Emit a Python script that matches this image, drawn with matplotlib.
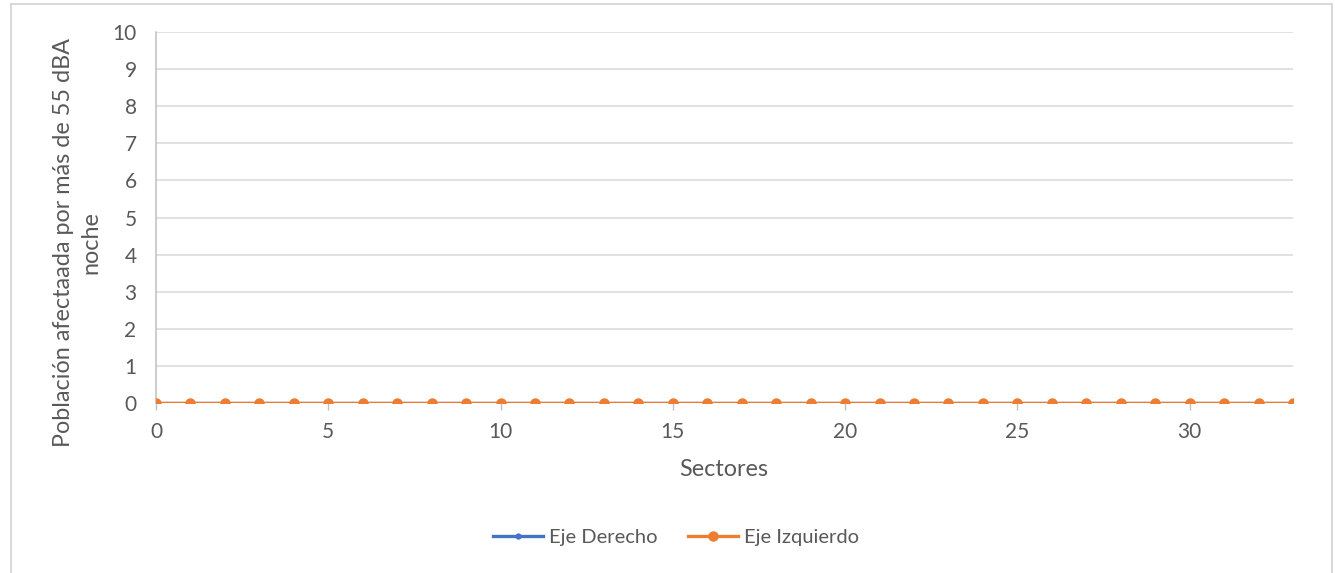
import matplotlib
matplotlib.use("Agg")
import matplotlib.pyplot as plt
from matplotlib.patches import Rectangle

# Sector indices and the population affected (night, > 55 dBA) per axis series
sectores = list(range(0, 34))
eje_derecho = [0] * 34
eje_izquierdo = [0] * 34

y_ticks = list(range(0, 11))
x_ticks = [0, 5, 10, 15, 20, 25, 30]

plt.rcParams['font.family'] = ['Lato', 'DejaVu Sans']
TXT = '#595959'
GRID = '#D9D9D9'
FS_TICK = 15
FS_TITLE = 16.8
FS_LEG = 14.5

W, H = 1335, 573
fig = plt.figure(figsize=(W / 100, H / 100), dpi=100)
fig.patch.set_facecolor('white')

# outer chart frame
fig.patches.append(Rectangle((11 / W, -0.01), (1332 - 11) / W, 1 - 4 / H + 0.01,
                             transform=fig.transFigure, fill=False,
                             edgecolor='#D9D9D9', linewidth=1.5))

left, right = 156 / W, 1293 / W
top, bottom = 1 - 32 / H, 1 - 403 / H
ax = fig.add_axes([left, bottom, right - left, top - bottom])

ax.plot(sectores, eje_derecho, color='#4472C4', linewidth=2.4, marker='o',
        markersize=3.5, label='Eje Derecho', zorder=3)
ax.plot(sectores, eje_izquierdo, color='#ED7D31', linewidth=2.4, marker='o',
        markersize=6.5, label='Eje Izquierdo', zorder=4)

ax.set_xlim(0, 33)
ax.set_ylim(0, 10)
ax.set_yticks(y_ticks)
ax.set_xticks(x_ticks)
ax.grid(axis='y', color=GRID, linewidth=1.1)
ax.set_axisbelow(True)

for s in ['top', 'right', 'bottom']:
    ax.spines[s].set_visible(False)
ax.spines['left'].set_color('#BFBFBF')
ax.spines['left'].set_linewidth(1.1)

ax.tick_params(axis='y', length=0, pad=14, labelsize=FS_TICK, labelcolor=TXT)
ax.tick_params(axis='x', length=5, width=1, color='#BFBFBF', pad=9,
               labelsize=FS_TICK, labelcolor=TXT)

fig.text(724 / W, 1 - 470 / H, 'Sectores', fontsize=FS_TITLE, color=TXT,
         ha='center', va='center')
fig.text(77 / W, 1 - 243 / H, 'Población afectaada por más de 55 dBA\nnoche',
         fontsize=FS_TITLE, color=TXT, ha='center', va='center',
         rotation=90, multialignment='center', linespacing=1.35)

leg = fig.legend(loc='center', bbox_to_anchor=(676 / W, 1 - 537 / H), ncol=2,
                 frameon=False, fontsize=FS_LEG, handlelength=2.5,
                 columnspacing=1.5, handletextpad=0.3)
for t in leg.get_texts():
    t.set_color(TXT)

fig.savefig('out.png', dpi=100, facecolor='white')
